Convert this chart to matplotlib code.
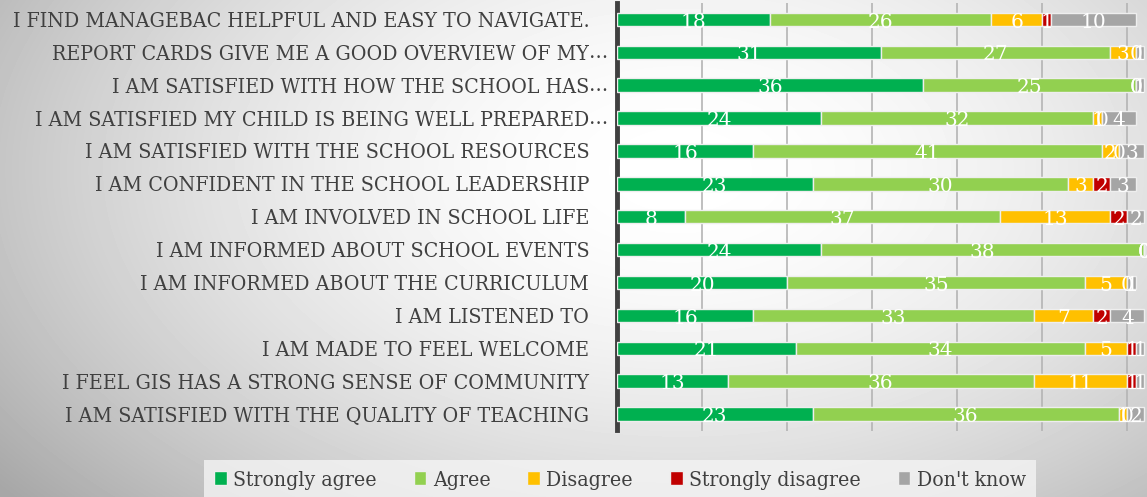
import matplotlib.pyplot as plt
import numpy as np

questions = [
    "I FIND MANAGEBAC HELPFUL AND EASY TO NAVIGATE.",
    "REPORT CARDS GIVE ME A GOOD OVERVIEW OF MY…",
    "I AM SATISFIED WITH HOW THE SCHOOL HAS…",
    "I AM SATISFIED MY CHILD IS BEING WELL PREPARED…",
    "I AM SATISFIED WITH THE SCHOOL RESOURCES",
    "I AM CONFIDENT IN THE SCHOOL LEADERSHIP",
    "I AM INVOLVED IN SCHOOL LIFE",
    "I AM INFORMED ABOUT SCHOOL EVENTS",
    "I AM INFORMED ABOUT THE CURRICULUM",
    "I AM LISTENED TO",
    "I AM MADE TO FEEL WELCOME",
    "I FEEL GIS HAS A STRONG SENSE OF COMMUNITY",
    "I AM SATISFIED WITH THE QUALITY OF TEACHING",
]
strongly_agree = [18, 31, 36, 24, 16, 23, 8, 24, 20, 16, 21, 13, 23]
agree = [26, 27, 25, 32, 41, 30, 37, 38, 35, 33, 34, 36, 36]
disagree = [6, 3, 0, 1, 2, 3, 13, 0, 5, 7, 5, 11, 1]
strongly_disagree = [1, 0, 0, 0, 0, 2, 2, 0, 0, 2, 1, 1, 0]
dont_know = [10, 1, 1, 4, 3, 3, 2, 0, 1, 4, 1, 1, 2]

series = ["Strongly agree", "Agree", "Disagree", "Strongly disagree", "Don't know"]
colors = ["#00B050", "#92D050", "#FFC000", "#C00000", "#A5A5A5"]
values = [strongly_agree, agree, disagree, strongly_disagree, dont_know]

serif_c = dict(family="DejaVu Serif", stretch="condensed")
text_col = "#404040"

fig = plt.figure(figsize=(11.47, 4.97), dpi=100)

# radial grey-white background
bg = fig.add_axes([0, 0, 1, 1], zorder=-10)
W, H = 1147, 497
xx, yy = np.meshgrid(np.arange(W), np.arange(H))
r = np.sqrt(((xx - 680) / 720.0) ** 2 + ((yy - 170) / 430.0) ** 2)
shade = 1 - 0.25 * np.clip(r, 0, 1.2) ** 1.8
bg.imshow(shade, cmap="gray", vmin=0, vmax=1, aspect="auto", interpolation="bilinear")
bg.axis("off")

ax = fig.add_axes([617 / W, 1 - 430.5 / H, 1 - 617 / W, 427.5 / H])
ax.set_facecolor("none")

y = np.arange(len(questions))
left = np.zeros(len(questions))
for name, col, vals in zip(series, colors, values):
    vals = np.array(vals)
    ax.barh(y, vals, left=left, height=0.41, color=col, edgecolor="#eeeeee",
            linewidth=1, label=name, zorder=3)
    for yi, (l, v) in enumerate(zip(left, vals)):
        ax.text(l + v / 2, yi + 0.08, str(v), ha="center", va="center",
                color="white", fontsize=14.5, family="DejaVu Serif",
                zorder=4, clip_on=False)
    left += vals

ax.set_xlim(0, 62.3)
ax.set_ylim(len(questions) - 0.5, -0.5)
ax.set_xticks(np.arange(10, 61, 10))
ax.set_xticklabels([])
ax.tick_params(axis="x", length=0)
ax.grid(axis="x", color="#b4b4b4", linewidth=1.2, zorder=0)

# labels: ellipsis hangs past the right edge like the original
ax.set_yticks(y)
ax.set_yticklabels([q.rstrip("…") for q in questions], fontsize=15.3,
                   color=text_col, **serif_c)
ax.tick_params(axis="y", length=0, pad=20)
for yi, q in enumerate(questions):
    if q.endswith("…"):
        ax.text(-27.5 / 8.5, yi, "…", ha="left", va="center", fontsize=15.3,
                color=text_col, clip_on=False, **serif_c)

for s in ["top", "right", "bottom"]:
    ax.spines[s].set_visible(False)
ax.spines["left"].set_color("#404040")
ax.spines["left"].set_linewidth(3.5)

leg = fig.legend(loc="center", bbox_to_anchor=(620 / W, 1 - 480 / H), ncol=5,
                 frameon=True, handlelength=0.6, handleheight=0.6,
                 handletextpad=0.3, columnspacing=1.75, borderpad=0.5,
                 prop=dict(size=15.2, **serif_c), labelcolor=text_col)
leg.get_frame().set_facecolor("#f4f4f4")
leg.get_frame().set_edgecolor("none")
leg.get_frame().set_alpha(0.8)
leg.get_frame().set_boxstyle("square", pad=0)

fig.savefig("out.png", dpi=100)
